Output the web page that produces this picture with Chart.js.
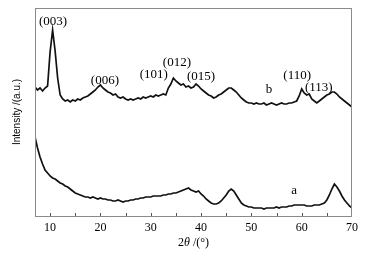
<!DOCTYPE html>
<html>
<head>
<meta charset="utf-8">
<script src="https://cdn.jsdelivr.net/npm/chart.js@4"></script>
<style>
  html, body { margin: 0; padding: 0; background: #fff; }
  #wrap { width: 372px; height: 258px; position: relative; }
</style>
</head>
<body>
<div id="wrap"><canvas id="xrd"></canvas></div>
<script>
/* XRD patterns, curves a and b (intensity in arbitrary units) */

// 2theta from 7 to 70 every 0.5 degree
const twoTheta = [];
for (let i = 0; i <= 126; i++) twoTheta.push(7 + i * 0.5);

const curveB = [
  129, 126, 128, 125, 128, 130, 164, 186, 165, 138,
  121, 117, 115, 116, 114, 116, 115, 117, 116, 118,
  119, 120, 122, 124, 126, 129, 131, 128, 126, 124,
  123, 121, 122, 119, 118, 119, 117, 116, 117, 116,
  117, 118, 117, 119, 118, 119, 120, 119, 121, 120,
  121, 122, 121, 128, 132, 138, 135, 133, 131, 132,
  129, 130, 128, 129, 132, 130, 127, 125, 123, 121,
  120, 118, 119, 121, 122, 124, 126, 128, 128, 126,
  124, 121, 118, 116, 114, 113, 113, 112, 113, 112,
  112, 113, 111, 112, 113, 112, 111, 112, 113, 112,
  112, 113, 113, 114, 115, 120, 127, 123, 121, 122,
  117, 115, 113, 115, 117, 119, 121, 122, 124, 124,
  122, 119, 117, 115, 113, 111, 109
];

const curveA = [
  79, 68, 59, 52, 46, 43, 40, 38, 37, 35,
  33, 32, 30, 29, 27, 25, 23, 22, 21, 20,
  19, 19, 18, 19, 18, 17, 18, 17, 17, 16,
  16, 15, 15, 16, 15, 14, 15, 15, 16, 16,
  17, 17, 18, 18, 19, 19, 19, 20, 20, 20,
  20, 21, 21, 22, 22, 23, 23, 24, 25, 26,
  27, 28, 26, 25, 24, 25, 22, 20, 17, 15,
  13, 12, 12, 13, 15, 18, 21, 25, 27, 25,
  21, 17, 13, 11, 10, 9, 9, 8, 8, 8,
  8, 7, 8, 8, 8, 8, 9, 8, 9, 9,
  9, 10, 10, 11, 11, 11, 11, 11, 10, 10,
  10, 11, 11, 11, 12, 13, 16, 21, 27, 32,
  29, 25, 20, 16, 13, 10, 8
];

const xTicks = [7, 10, 15, 20, 25, 30, 35, 40, 45, 50, 55, 60, 65, 70];

// peak labels: text, 2theta, intensity
const peakText = ['(003)', '(006)', '(101)', '(012)', '(015)', 'b', '(110)', '(113)', 'a'];
const peakX    = [10.6, 20.9, 30.6, 35.2, 40.0, 53.5, 59.1, 63.4, 58.5];
const peakY    = [194, 135, 141, 153, 139, 126, 140, 128, 25];

const SERIF = '"Liberation Serif", "Times New Roman", serif';
const SANS = '"Liberation Sans", Arial, sans-serif';

const toPoints = vals => vals.map((v, i) => ({ x: twoTheta[i], y: v }));

const decorations = {
  id: 'decorations',
  afterDraw(chart) {
    const { ctx, chartArea: a, scales: { x, y } } = chart;
    ctx.save();

    // frame
    ctx.strokeStyle = '#8a8a8a';
    ctx.lineWidth = 1;
    ctx.strokeRect(a.left + 0.5, a.top + 0.5, a.right - a.left - 1, a.bottom - a.top);

    // inward ticks on the bottom axis
    ctx.strokeStyle = '#555';
    xTicks.forEach(v => {
      if (v === 7 || v === 70) return;
      const px = Math.round(x.getPixelForValue(v)) + 0.5;
      ctx.beginPath();
      ctx.moveTo(px, a.bottom);
      ctx.lineTo(px, a.bottom - 3);
      ctx.stroke();
    });

    // peak labels
    ctx.fillStyle = '#000';
    ctx.font = '13px ' + SERIF;
    ctx.textAlign = 'center';
    ctx.textBaseline = 'middle';
    peakText.forEach((t, i) => {
      ctx.fillText(t, x.getPixelForValue(peakX[i]), y.getPixelForValue(peakY[i]));
    });

    // x title: 2θ /(°)
    const cx = (a.left + a.right) / 2;
    const ty = 243;
    const parts = [['2', false], ['θ', true], [' /(°)', false]];
    let w = 0;
    parts.forEach(p => {
      ctx.font = (p[1] ? 'italic ' : '') + '12px ' + SERIF;
      w += ctx.measureText(p[0]).width;
    });
    let px = cx - w / 2;
    ctx.textAlign = 'left';
    parts.forEach(p => {
      ctx.font = (p[1] ? 'italic ' : '') + '12px ' + SERIF;
      ctx.fillText(p[0], px, ty);
      px += ctx.measureText(p[0]).width;
    });

    // y title
    ctx.translate(17, 112);
    ctx.rotate(-Math.PI / 2);
    ctx.font = '10px ' + SANS;
    ctx.textAlign = 'center';
    ctx.fillText('Intensity /(a.u.)', 0, 0);

    ctx.restore();
  }
};

new Chart(document.getElementById('xrd'), {
  type: 'line',
  data: {
    datasets: [
      { label: 'b', data: toPoints(curveB) },
      { label: 'a', data: toPoints(curveA) }
    ]
  },
  options: {
    responsive: true,
    maintainAspectRatio: false,
    animation: false,
    layout: { padding: { left: 35, right: 20, top: 8, bottom: 0 } },
    elements: {
      line: { borderColor: '#111', borderWidth: 1.7, tension: 0 },
      point: { radius: 0 }
    },
    plugins: {
      legend: { display: false },
      tooltip: { enabled: false }
    },
    scales: {
      x: {
        type: 'linear',
        min: 7,
        max: 70,
        afterBuildTicks: s => { s.ticks = xTicks.map(v => ({ value: v })); },
        afterFit: s => { s.height = 42; },
        grid: { display: false, drawTicks: false },
        border: { display: false },
        ticks: {
          padding: 5,
          color: '#000',
          font: { family: SERIF, size: 12 },
          autoSkip: false,
          maxRotation: 0,
          callback: v => (v % 10 === 0 ? String(v) : '')
        }
      },
      y: {
        display: false,
        min: 0,
        max: 208
      }
    }
  },
  plugins: [decorations]
});
</script>
</body>
</html>
